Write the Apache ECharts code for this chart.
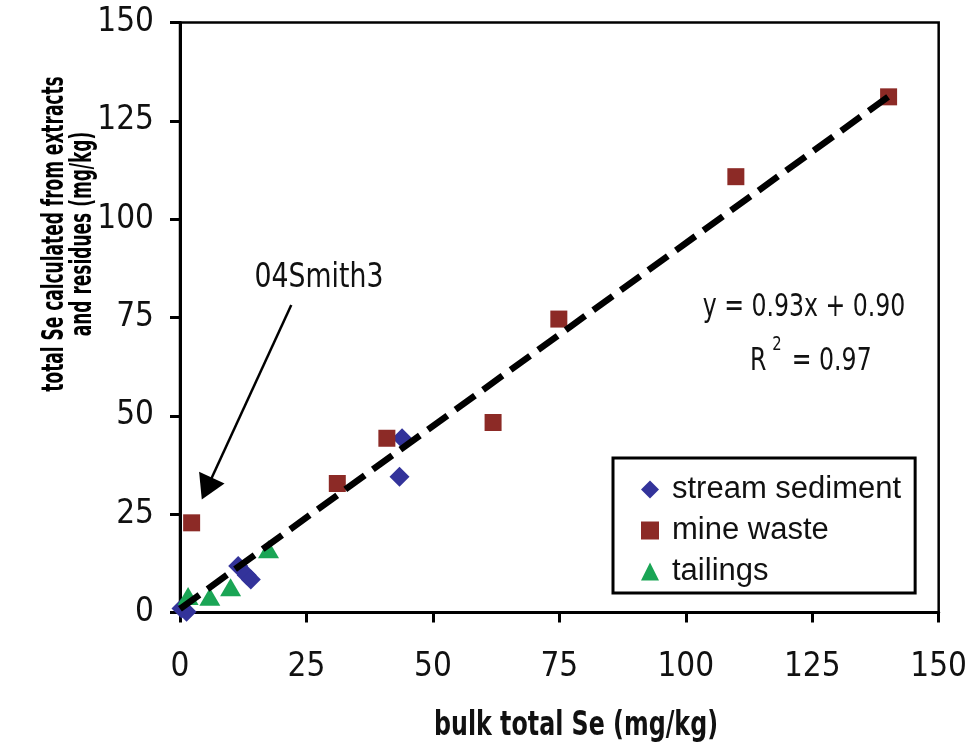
<!DOCTYPE html>
<html>
<head>
<meta charset="utf-8">
<title>bulk total Se vs calculated Se</title>
<script src="https://cdn.jsdelivr.net/npm/echarts@6/dist/echarts.min.js"></script>
<style>
  html, body { margin: 0; padding: 0; background: #fff; }
  #chart { width: 970px; height: 744px; }
</style>
</head>
<body>
<div id="chart"></div>
<script>
// values: [bulk total Se, calculated total Se]
const streamSediment = [
  [0.3, 1.0], [1.3, 0.2],
  [11.5, 11.8], [13.2, 9.5], [14.0, 8.4],
  [43.4, 34.5], [43.9, 44.3]
]
const mineWaste = [
  [2.3, 22.8], [31.1, 32.8], [40.9, 44.3], [61.9, 48.3],
  [74.9, 74.6], [109.9, 110.8], [140.1, 131.1]
]
const tailings = [
  [1.6, 4.2], [5.9, 4.0], [10.0, 6.4], [17.5, 16.1]
]
// fitted line y = 0.93x + 0.90, drawn between its two end points
const trendLine = [[0, 0.9], [140, 131.1]]
const axisTicks = [0, 25, 50, 75, 100, 125, 150]

const narrow = '"Liberation Sans Narrow", "DejaVu Sans Condensed", sans-serif'
const regular = '"Liberation Sans", Arial, sans-serif'

const chart = echarts.init(document.getElementById('chart'))

const axisCommon = {
  type: 'value',
  min: axisTicks[0],
  max: axisTicks[axisTicks.length - 1],
  interval: axisTicks[1] - axisTicks[0],
  splitLine: { show: false },
  axisLine: { show: true, onZero: false, lineStyle: { color: '#000', width: 3 } },
  axisTick: { show: true, length: 10, lineStyle: { color: '#000', width: 3 } },
  axisLabel: { color: '#111', fontFamily: narrow, fontSize: 33 }
}

// condensed text helper: the reference uses a narrow face, so squeeze it
function squeezed(x, y, text, font, sx, extra) {
  return Object.assign({
    type: 'text',
    x: x,
    y: y,
    scaleX: sx,
    style: {
      text: text,
      fill: '#111',
      font: font,
      align: 'center',
      verticalAlign: 'middle'
    }
  }, extra || {})
}

chart.setOption({
  animation: false,
  backgroundColor: '#fff',
  grid: {
    left: 180,
    right: 27,
    top: 22.5,
    bottom: 131.5,
    show: true,
    borderColor: '#000',
    borderWidth: 2.5
  },
  xAxis: Object.assign({}, axisCommon, {
    axisLabel: Object.assign({}, axisCommon.axisLabel, { margin: 38 })
  }),
  yAxis: Object.assign({}, axisCommon, {
    axisLabel: Object.assign({}, axisCommon.axisLabel, { margin: 26 })
  }),
  legend: {
    orient: 'vertical',
    left: 613,
    top: 458,
    padding: [16, 14, 6, 28],
    itemGap: 10,
    itemWidth: 18,
    itemHeight: 18,
    borderColor: '#000',
    borderWidth: 3,
    borderRadius: 0,
    backgroundColor: '#fff',
    textStyle: { color: '#111', fontFamily: regular, fontSize: 31, padding: [0, 0, 0, 8] },
    data: ['stream sediment', 'mine waste', 'tailings']
  },
  series: [
    {
      name: 'stream sediment',
      type: 'scatter',
      symbol: 'diamond',
      symbolSize: 20,
      itemStyle: { color: '#33339a', opacity: 1 },
      data: streamSediment,
      z: 3
    },
    {
      name: 'mine waste',
      type: 'scatter',
      symbol: 'rect',
      symbolSize: 17,
      itemStyle: { color: '#8c2a26', opacity: 1 },
      data: mineWaste,
      z: 3
    },
    {
      name: 'tailings',
      type: 'scatter',
      symbol: 'triangle',
      symbolSize: [21, 18],
      itemStyle: { color: '#1aa555', opacity: 1 },
      data: tailings,
      z: 3
    },
    {
      name: 'trend',
      type: 'line',
      data: trendLine,
      showSymbol: false,
      symbol: 'none',
      silent: true,
      lineStyle: { color: '#000', width: 6.5, type: [24, 10], cap: 'butt' },
      z: 5,
      markLine: {
        silent: true,
        symbol: ['none', 'triangle'],
        symbolSize: [28, 24],
        label: { show: false },
        lineStyle: { color: '#000', width: 2.5, type: 'solid' },
        // arrow from the 04Smith3 note to the outlying mine-waste sample
        data: [[{ coord: [22, 78.2] }, { coord: [5.3, 31.5] }]]
      }
    }
  ],
  graphic: [
    squeezed(69, 234, 'total Se calculated from extracts\nand residues (mg/kg)',
      'bold 30px ' + narrow, 0.63, { rotation: Math.PI / 2, style: {
        text: 'total Se calculated from extracts\nand residues (mg/kg)',
        fill: '#000', font: 'bold 30px ' + narrow, lineHeight: 28,
        align: 'center', verticalAlign: 'middle'
      } }),
    squeezed(576, 726, 'bulk total Se (mg/kg)', 'bold 33px ' + narrow, 0.8),
    squeezed(319, 278, '04Smith3', '33px ' + narrow, 0.9),
    squeezed(804, 308, 'y = 0.93x + 0.90', '32px ' + narrow, 0.82),
    {
      type: 'group',
      x: 750,
      y: 362,
      scaleX: 0.82,
      children: [
        { type: 'text', x: 0, y: 0, style: { text: 'R', fill: '#111', font: '32px ' + narrow, align: 'left', verticalAlign: 'middle' } },
        { type: 'text', x: 27, y: -17, style: { text: '2', fill: '#111', font: '20px ' + narrow, align: 'left', verticalAlign: 'middle' } },
        { type: 'text', x: 51, y: 0, style: { text: '= 0.97', fill: '#111', font: '32px ' + narrow, align: 'left', verticalAlign: 'middle' } }
      ]
    }
  ]
})
</script>
</body>
</html>
